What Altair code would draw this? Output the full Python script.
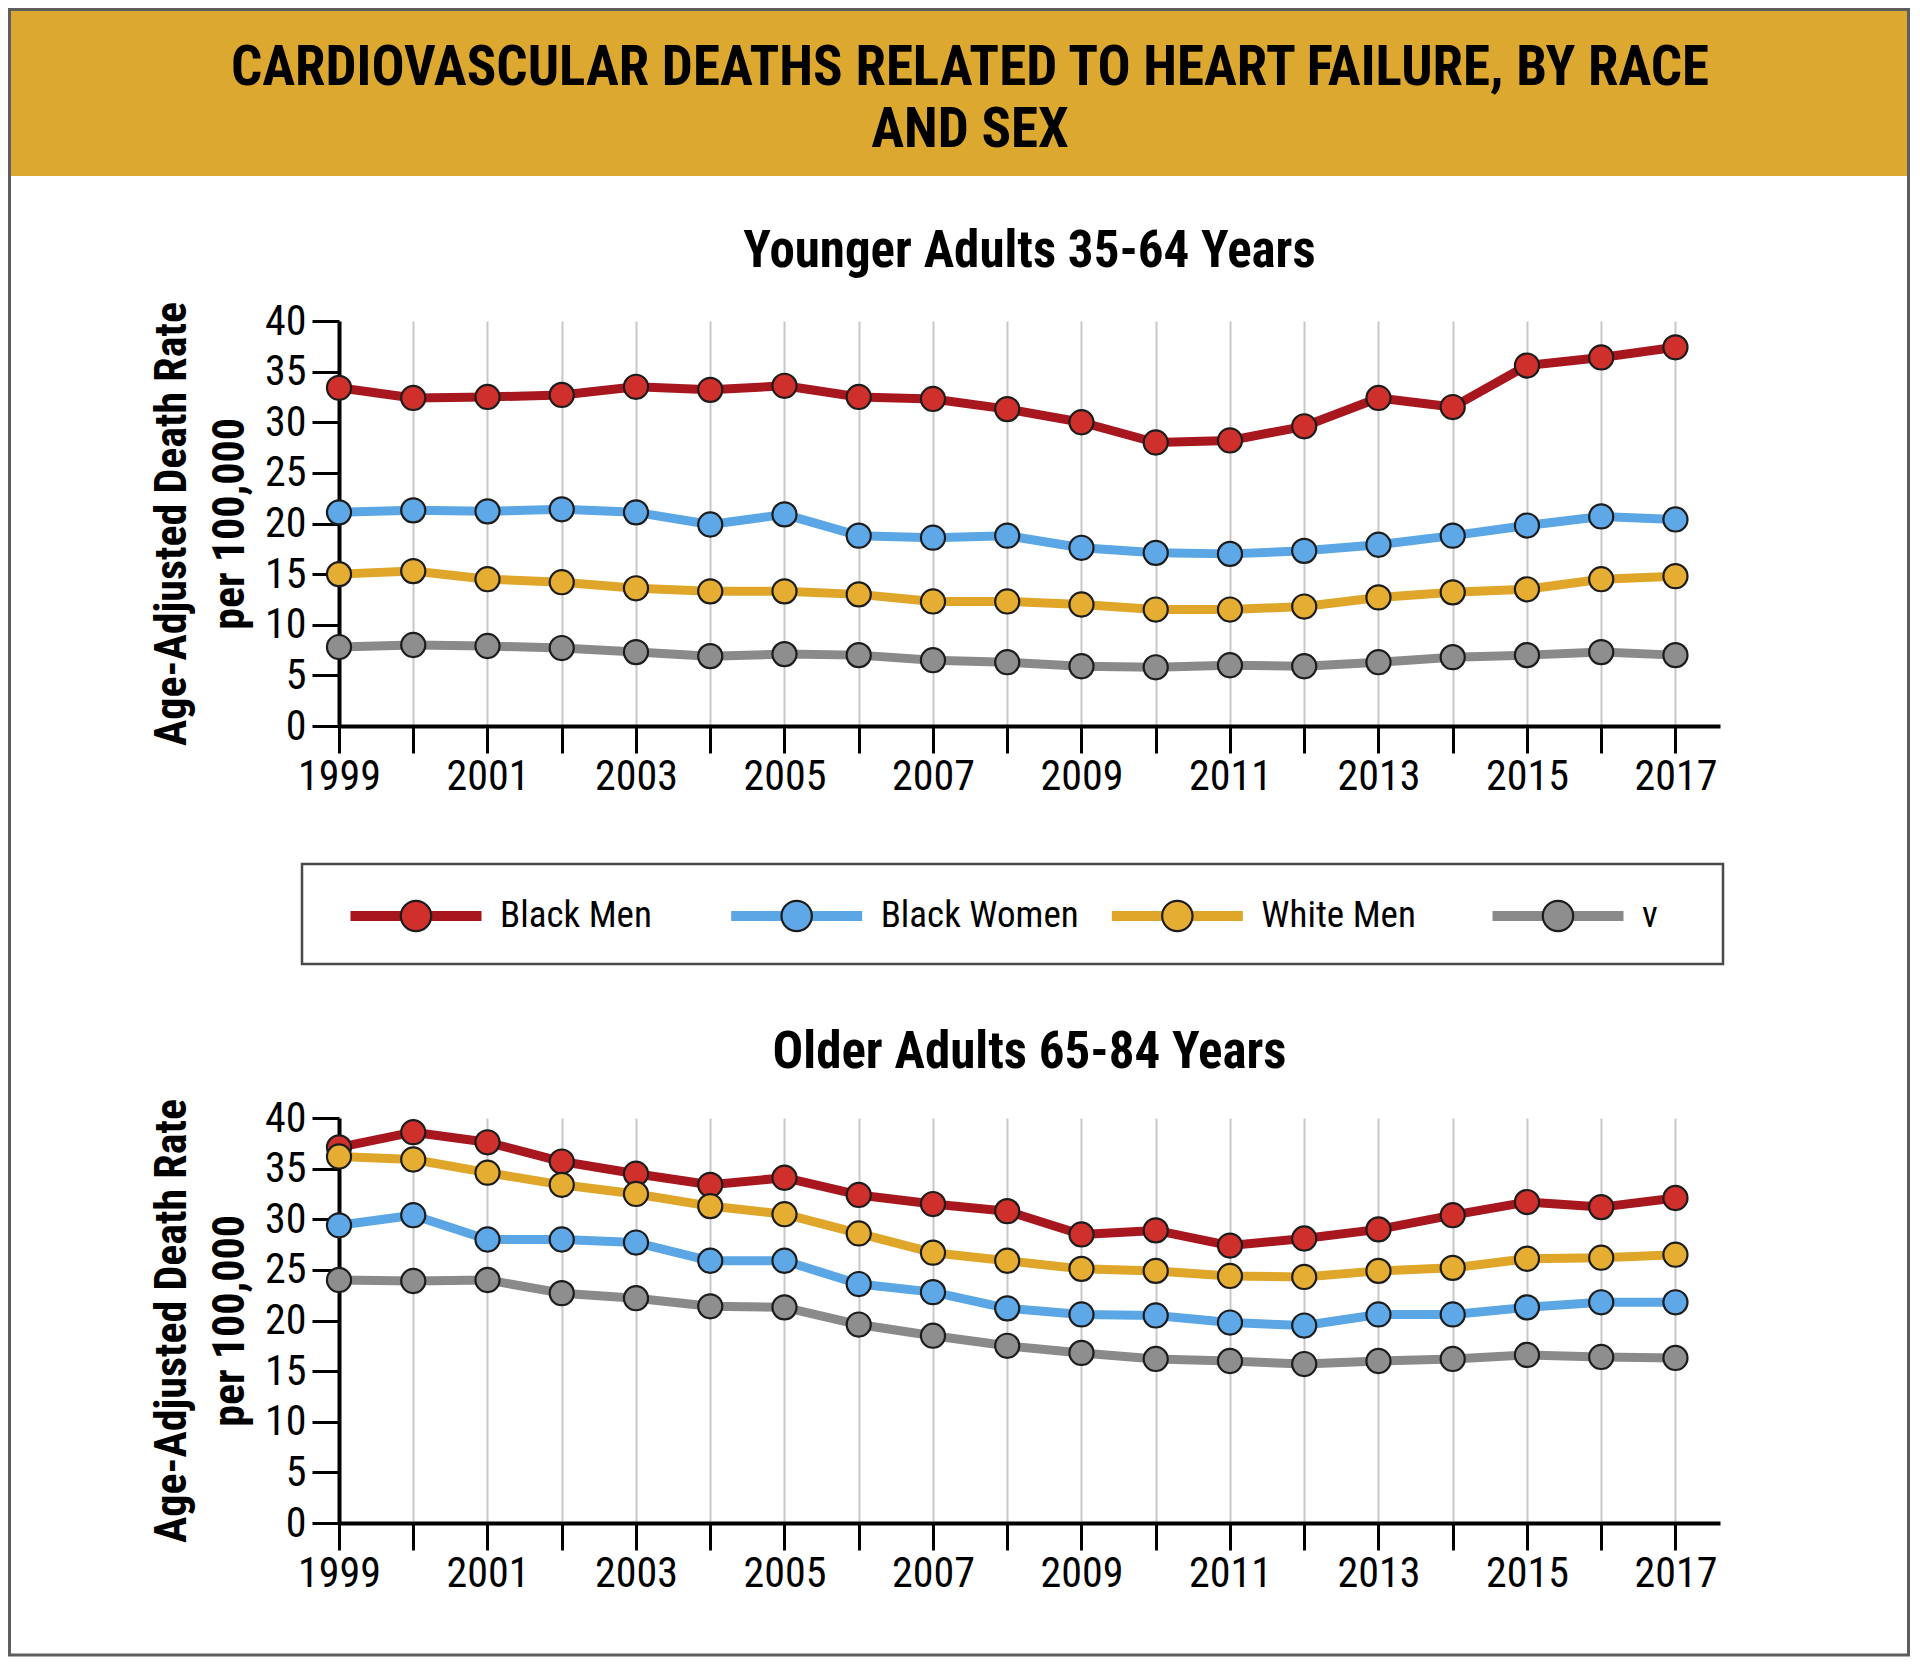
import altair as alt
import pandas as pd

# ---------------- data ----------------
years = list(range(1999, 2018))
series = ["Black Men", "Black Women", "White Men", "ν"]
line_colors = ["#A8171E", "#5BA7E5", "#DFA62A", "#8A8A8A"]
point_colors = ["#D0302B", "#5EA8E8", "#E5AE33", "#8E8E8E"]

header_lines = ["CARDIOVASCULAR DEATHS RELATED TO HEART FAILURE, BY RACE", "AND SEX"]
panel_titles = ["Younger Adults 35-64 Years", "Older Adults 65-84 Years"]
y_title = ["Age-Adjusted Death Rate", "per 100,000"]
y_ticks = [0, 5, 10, 15, 20, 25, 30, 35, 40]

young_black_men = [33.4, 32.4, 32.5, 32.7, 33.5, 33.2, 33.6, 32.5, 32.3, 31.3, 30.0, 28.0, 28.2, 29.6, 32.4, 31.5, 35.6, 36.4, 37.4]
young_black_women = [21.1, 21.3, 21.2, 21.4, 21.1, 19.9, 20.9, 18.8, 18.6, 18.8, 17.6, 17.1, 17.0, 17.3, 17.9, 18.8, 19.8, 20.7, 20.4]
young_white_men = [15.0, 15.3, 14.5, 14.2, 13.6, 13.3, 13.3, 13.0, 12.3, 12.3, 12.0, 11.5, 11.5, 11.8, 12.7, 13.2, 13.5, 14.5, 14.8]
young_nu = [7.8, 8.0, 7.9, 7.7, 7.3, 6.9, 7.1, 7.0, 6.5, 6.3, 5.9, 5.8, 6.0, 5.9, 6.3, 6.8, 7.0, 7.3, 7.0]

old_black_men = [37.1, 38.6, 37.6, 35.7, 34.5, 33.4, 34.1, 32.4, 31.5, 30.8, 28.5, 28.9, 27.4, 28.1, 29.0, 30.4, 31.7, 31.2, 32.1]
old_black_women = [29.4, 30.4, 28.0, 28.0, 27.7, 25.9, 25.9, 23.6, 22.8, 21.2, 20.6, 20.5, 19.8, 19.5, 20.6, 20.6, 21.3, 21.8, 21.8]
old_white_men = [36.2, 35.9, 34.6, 33.4, 32.5, 31.3, 30.5, 28.6, 26.7, 25.9, 25.1, 24.9, 24.4, 24.3, 24.9, 25.2, 26.1, 26.2, 26.5]
old_nu = [24.0, 23.9, 24.0, 22.7, 22.2, 21.4, 21.3, 19.6, 18.5, 17.5, 16.8, 16.2, 16.0, 15.7, 16.0, 16.2, 16.6, 16.4, 16.3]

FONT = ("Roboto Condensed, Noto Sans Condensed, Open Sans Condensed, "
        "Liberation Sans Narrow, DejaVu Sans Condensed, sans-serif")
W, H = 1381, 405


def long_df(vals_by_series):
    rows = []
    for s, vals in zip(series, vals_by_series):
        for yr, v in zip(years, vals):
            rows.append({"year": yr, "series": s, "rate": v})
    return pd.DataFrame(rows)


young_df = long_df([young_black_men, young_black_women, young_white_men, young_nu])
old_df = long_df([old_black_men, old_black_women, old_white_men, old_nu])

one = pd.DataFrame({"k": [0]})


def title_mark(text, y):
    return alt.Chart(one).mark_text(
        font=FONT, fontSize=51, fontWeight="bold", color="black",
        align="center", baseline="alphabetic",
    ).encode(x=alt.value(W / 2), y=alt.value(y), text=alt.value(text))


def panel(df, title, title_y, extra_layers=()):
    x = alt.X(
        "year:Q",
        scale=alt.Scale(domain=[1999, 2017.6], nice=False, zero=False),
        axis=alt.Axis(
            values=years, format="d",
            labelExpr="datum.value % 2 == 1 ? datum.label : ''",
            grid=True, gridColor="#C8C8C8", gridWidth=2,
            title=None, domainColor="black", domainWidth=4,
            tickColor="black", tickWidth=3, tickSize=27,
            labelFont=FONT, labelFontSize=42, labelColor="black",
            labelPadding=3, labelFlush=False, labelOverlap=False,
        ),
    )
    y = alt.Y(
        "rate:Q",
        scale=alt.Scale(domain=[0, 40], nice=False),
        axis=alt.Axis(
            values=y_ticks, grid=False, title=y_title,
            titleFont=FONT, titleFontSize=44, titleFontWeight="bold",
            titleColor="black", titleLineHeight=58, titlePadding=12,
            domainColor="black", domainWidth=4,
            tickColor="black", tickWidth=3, tickSize=27,
            labelFont=FONT, labelFontSize=42, labelColor="black", labelPadding=6,
        ),
    )
    base = alt.Chart(df)
    lines = base.mark_line(strokeWidth=9, strokeJoin="round", strokeCap="round").encode(
        x=x, y=y,
        color=alt.Color("series:N", scale=alt.Scale(domain=series, range=line_colors), legend=None),
    )
    points = base.mark_circle(size=580, stroke="#1c1c1c", strokeWidth=2.2, opacity=1).encode(
        x=x, y=y,
        fill=alt.Fill("series:N", scale=alt.Scale(domain=series, range=point_colors), legend=None),
    )
    return alt.layer(*extra_layers, title_mark(title, title_y), lines, points).properties(width=W, height=H)


border = alt.Chart(one).mark_rect(fill="white", fillOpacity=0, stroke="#5E5E5E", strokeWidth=3).encode(
    x=alt.value(-329.5), x2=alt.value(1569.5), y=alt.value(-311.5), y2=alt.value(1334)
)
header_band = alt.Chart(one).mark_rect(fill="#DDA830").encode(
    x=alt.value(-328), x2=alt.value(1568), y=alt.value(-310), y2=alt.value(-145)
)
header_text1 = alt.Chart(one).mark_text(
    font=FONT, fontSize=55, fontWeight="bold", color="black", align="center", baseline="alphabetic",
).encode(x=alt.value(631), y=alt.value(-236), text=alt.value(header_lines[0]))
header_text2 = alt.Chart(one).mark_text(
    font=FONT, fontSize=55, fontWeight="bold", color="black", align="center", baseline="alphabetic",
).encode(x=alt.value(631), y=alt.value(-174), text=alt.value(header_lines[1]))

top = panel(young_df, panel_titles[0], -54, [border, header_band, header_text1, header_text2])
bottom = panel(old_df, panel_titles[1], -50)

# ---------------- legend panel ----------------
leg_df = pd.DataFrame({"series": series})
lx = alt.X("series:N", scale=alt.Scale(type="point", domain=series, range=[77, 1219], padding=0), axis=None)

leg_box = alt.Chart(one).mark_rect(fill="white", fillOpacity=0, stroke="#4A4A4A", strokeWidth=2.5).encode(
    x=alt.value(-37), x2=alt.value(1384), y=alt.value(0), y2=alt.value(100)
)
leg_lines = alt.Chart(leg_df).mark_tick(orient="horizontal", size=131, thickness=10, opacity=1).encode(
    x=lx, y=alt.value(52),
    color=alt.Color("series:N", scale=alt.Scale(domain=series, range=line_colors), legend=None),
)
leg_points = alt.Chart(leg_df).mark_circle(size=920, stroke="#1c1c1c", strokeWidth=2.2, opacity=1).encode(
    x=lx, y=alt.value(52),
    fill=alt.Fill("series:N", scale=alt.Scale(domain=series, range=point_colors), legend=None),
)
leg_text = alt.Chart(leg_df).mark_text(
    font=FONT, fontSize=37, color="black", align="left", baseline="middle", dx=84
).encode(x=lx, y=alt.value(52), text="series:N")

legend = alt.layer(leg_box, leg_lines, leg_points, leg_text).properties(width=W, height=116)

chart = (
    alt.vconcat(top, legend, bottom, spacing=138, bounds="flush")
    .configure_view(strokeWidth=0)
    .properties(padding=0, background="white")
)

chart.save("out.html", embed_options={"renderer": "svg", "actions": False})
